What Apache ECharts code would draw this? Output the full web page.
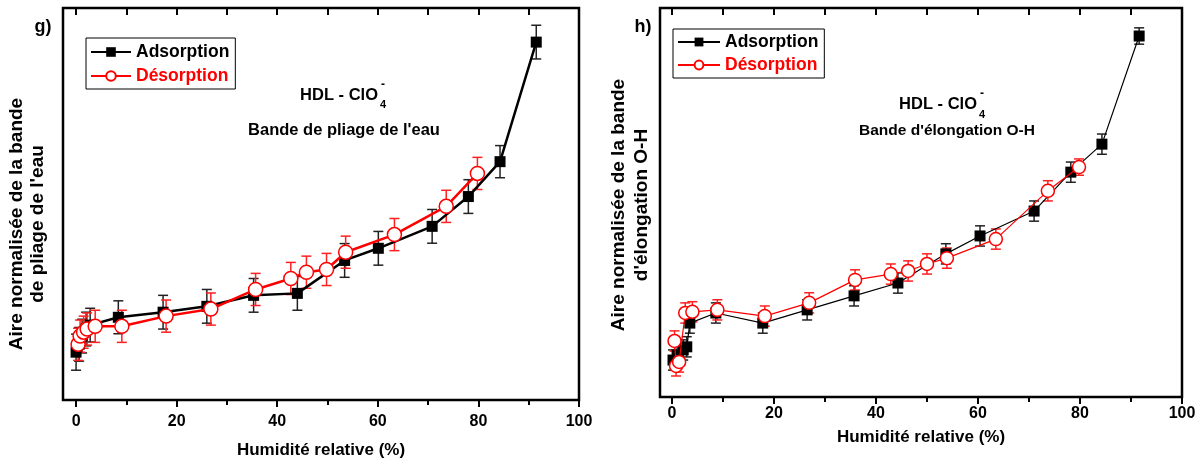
<!DOCTYPE html>
<html><head><meta charset="utf-8">
<script src="https://cdn.jsdelivr.net/npm/echarts@6/dist/echarts.min.js"></script>
<style>html,body{margin:0;padding:0;background:#fff}#c{width:1204px;height:464px}</style>
</head><body><div id="c"></div>
<script>
// ---------- Panel g) : bande de pliage de l'eau ----------
const rhAdsG   = [0.0, 0.6, 1.2, 2.0, 2.8, 8.4, 17.3, 26.0, 35.3, 44.0, 53.4, 60.1, 70.8, 78.0, 84.3, 91.5];
const areaAdsG = [12.2, 14.2, 16.3, 18.1, 19.1, 21.1, 22.4, 23.9, 26.7, 27.2, 35.6, 38.7, 44.3, 51.9, 60.8, 91.3];
const errAdsG  = [4.6, 4.3, 4.3, 4.3, 4.3, 4.2, 4.3, 4.3, 4.3, 4.3, 4.3, 4.3, 4.3, 4.3, 4.1, 4.3];
const rhDesG   = [0.4, 0.8, 1.5, 2.2, 3.8, 9.1, 17.9, 26.8, 35.7, 42.7, 45.8, 49.8, 53.6, 63.3, 73.6, 79.8];
const areaDesG = [14.2, 16.3, 17.3, 18.1, 18.8, 18.8, 21.4, 23.2, 28.2, 31.0, 32.6, 33.3, 37.7, 42.2, 49.4, 57.8];
const errDesG  = [4.1, 4.1, 4.1, 4.1, 4.1, 4.1, 4.1, 4.1, 4.1, 4.1, 4.1, 4.1, 4.1, 4.1, 4.1, 4.1];
// ---------- Panel h) : bande d'élongation O-H ----------
const rhAdsH   = [0.2, 1.0, 2.2, 2.9, 3.5, 8.6, 17.8, 26.5, 35.7, 44.3, 53.7, 60.4, 71.0, 78.2, 84.3, 91.6];
const areaAdsH = [9.5, 10.8, 12.1, 12.9, 19.0, 21.6, 19.0, 22.4, 26.0, 29.3, 36.8, 41.4, 47.8, 57.8, 65.0, 92.8];
const errAdsH  = [2.6, 2.6, 2.6, 2.6, 2.6, 2.6, 2.6, 2.6, 2.6, 2.6, 2.6, 2.6, 2.6, 2.6, 2.6, 2.1];
const rhDesH   = [0.5, 0.8, 1.4, 2.6, 4.0, 8.9, 18.2, 26.9, 35.9, 42.9, 46.3, 50.0, 53.9, 63.5, 73.7, 79.8];
const areaDesH = [14.4, 8.0, 9.0, 21.6, 21.9, 22.4, 20.8, 24.2, 30.1, 31.6, 32.4, 34.2, 35.7, 40.6, 53.0, 59.1];
const errDesH  = [2.6, 2.6, 2.6, 2.6, 2.6, 2.6, 2.6, 2.6, 2.6, 2.6, 2.6, 2.6, 2.6, 2.6, 2.6, 2.1];
// ---------- axes ----------
const xMajor = [0, 20, 40, 60, 80, 100];
const xMinor = [10, 30, 50, 70, 90];
const xTop   = [0, 10, 20, 30, 40, 50, 60, 70, 80, 90];
const xTitle = 'Humidité relative (%)';
const FONT = '"Liberation Sans", Arial, sans-serif';

const zip = (a, b) => a.map((v, i) => [v, b[i]]);
const zip3 = (a, b, c) => a.map((v, i) => [v, b[i], c[i]]);

function errBar(color, lw, cap) {
  return function (params, api) {
    const x = api.value(0), y = api.value(1), e = api.value(2);
    const t = api.coord([x, y + e]), b = api.coord([x, y - e]);
    const st = {stroke: color, lineWidth: lw};
    return {type: 'group', children: [
      {type: 'line', shape: {x1: t[0], y1: t[1], x2: b[0], y2: b[1]}, style: st},
      {type: 'line', shape: {x1: t[0] - cap, y1: t[1], x2: t[0] + cap, y2: t[1]}, style: st},
      {type: 'line', shape: {x1: b[0] - cap, y1: b[1], x2: b[0] + cap, y2: b[1]}, style: st}
    ]};
  };
}

const grids = [
  {left: 63, top: 8, width: 516, height: 393, xmin: -2.6},
  {left: 660, top: 8, width: 522, height: 389, xmin: -2.35}
];

const option = {
  animation: false,
  textStyle: {fontFamily: FONT},
  grid: grids.map(g => ({left: g.left, top: g.top, width: g.width, height: g.height,
    show: true, borderColor: '#000', borderWidth: 2.5, backgroundColor: 'transparent'})),
  xAxis: [],
  yAxis: [],
  legend: [],
  series: [],
  graphic: []
};

grids.forEach((g, i) => {
  const base = option.xAxis.length;
  option.xAxis.push({
    type: 'value', gridIndex: i, position: 'bottom', min: g.xmin, max: 100,
    axisLine: {show: false}, splitLine: {show: false},
    axisTick: {show: true, inside: false, length: 7, customValues: xMajor, lineStyle: {color: '#000', width: 2}},
    axisLabel: {show: true, customValues: xMajor, margin: i === 0 ? 14 : 9, color: '#000', fontSize: 16, fontWeight: 'bold', fontFamily: FONT},
    name: xTitle, nameLocation: 'middle', nameGap: i === 0 ? 42 : 32,
    nameTextStyle: {color: '#000', fontSize: 17, fontWeight: 'bold', fontFamily: FONT}
  });
  option.xAxis.push({
    type: 'value', gridIndex: i, position: 'bottom', min: g.xmin, max: 100,
    axisLine: {show: false}, splitLine: {show: false},
    axisTick: {show: true, inside: false, length: 5, customValues: xMinor, lineStyle: {color: '#000', width: 2}},
    axisLabel: {show: false}
  });
  option.xAxis.push({
    type: 'value', gridIndex: i, position: 'top', min: g.xmin, max: 100,
    axisLine: {show: false}, splitLine: {show: false},
    axisTick: {show: true, inside: true, length: 7, customValues: xTop, lineStyle: {color: '#000', width: 2}},
    axisLabel: {show: false}
  });
  option.yAxis.push({
    type: 'value', gridIndex: i, min: 0, max: 100,
    axisLine: {show: false}, axisTick: {show: false}, axisLabel: {show: false}, splitLine: {show: false}
  });
  g.xi = base;
});

const panels = [
  {ads: zip(rhAdsG, areaAdsG), des: zip(rhDesG, areaDesG),
   adsE: zip3(rhAdsG, areaAdsG, errAdsG), desE: zip3(rhDesG, areaDesG, errDesG),
   lw: 2.5, sq: 11, circ: 14, cap: 5, elw: 1.5},
  {ads: zip(rhAdsH, areaAdsH), des: zip(rhDesH, areaDesH),
   adsE: zip3(rhAdsH, areaAdsH, errAdsH), desE: zip3(rhDesH, areaDesH, errDesH),
   lw: 1.2, sq: 11, circ: 13, cap: 5, elw: 1.5}
];

panels.forEach((p, i) => {
  const xi = grids[i].xi, yi = i;
  option.series.push({type: 'custom', xAxisIndex: xi, yAxisIndex: yi, data: p.adsE, z: 1,
    renderItem: errBar('#222', p.elw, p.cap), silent: true});
  option.series.push({type: 'custom', xAxisIndex: xi, yAxisIndex: yi, data: p.desE, z: 1,
    renderItem: errBar('#ff2020', p.elw, p.cap), silent: true});
  option.series.push({name: 'Adsorption', type: 'line', xAxisIndex: xi, yAxisIndex: yi, data: p.ads, z: 3,
    symbol: 'rect', symbolSize: p.sq, lineStyle: {color: '#000', width: p.lw},
    itemStyle: {color: '#000', borderColor: '#000', borderWidth: 0}});
  option.series.push({name: 'Désorption', type: 'line', xAxisIndex: xi, yAxisIndex: yi, data: p.des, z: 4,
    symbol: 'circle', symbolSize: p.circ, lineStyle: {color: '#ff0000', width: p.lw},
    itemStyle: {color: '#fff', borderColor: '#ff0000', borderWidth: 1.5}});
});

option.legend = [
  {left: 86, top: 38, orient: 'vertical', itemWidth: 40, itemHeight: 12, itemGap: 6,
   padding: [5, 6, 4, 4], borderColor: '#000', borderWidth: 1, backgroundColor: '#fff',
   data: [{name: 'Adsorption', textStyle: {color: '#000'}}, {name: 'Désorption', textStyle: {color: '#ff0000'}}],
   textStyle: {fontSize: 17.5, fontWeight: 'bold', fontFamily: FONT}},
  {left: 673, top: 29, orient: 'vertical', itemWidth: 42, itemHeight: 11, itemGap: 5,
   padding: [4, 6, 4, 4], borderColor: '#000', borderWidth: 1, backgroundColor: '#fff',
   data: [{name: 'Adsorption', textStyle: {color: '#000'}}, {name: 'Désorption', textStyle: {color: '#ff0000'}}],
   textStyle: {fontSize: 17.5, fontWeight: 'bold', fontFamily: FONT}}
];

function tx(text, x, y, size, align, rot, lh) {
  const st = {text: text, textAlign: align || 'center', textVerticalAlign: 'middle',
    fill: '#000', font: 'bold ' + size + 'px ' + FONT};
  if (lh) st.lineHeight = lh;
  return {type: 'text', x: x, y: y, rotation: rot || 0, z: 10, style: st};
}
option.graphic = [
  tx('g)', 43, 27, 18),
  tx('h)', 643, 27, 18),
  tx("Aire normalisée de la bande\nde pliage de l'eau", 27.5, 224, 19, 'center', Math.PI / 2, 21),
  tx("Aire normalisée de la bande\nd'élongation O-H", 630.5, 205, 19, 'center', Math.PI / 2, 23),
  tx('HDL - ClO', 378, 95, 16.5, 'right'),
  tx('4', 380, 105, 11, 'left'),
  tx('-', 381, 85, 12, 'left'),
  tx("Bande de pliage de l'eau", 344, 130, 16.5),
  tx('HDL - ClO', 977, 104, 16.5, 'right'),
  tx('4', 979, 115, 11, 'left'),
  tx('-', 980, 94, 12, 'left'),
  tx("Bande d'élongation O-H", 947, 131, 15.5)
];

const chart = echarts.init(document.getElementById('c'), null, {renderer: 'canvas'});
chart.setOption(option);
</script></body></html>
